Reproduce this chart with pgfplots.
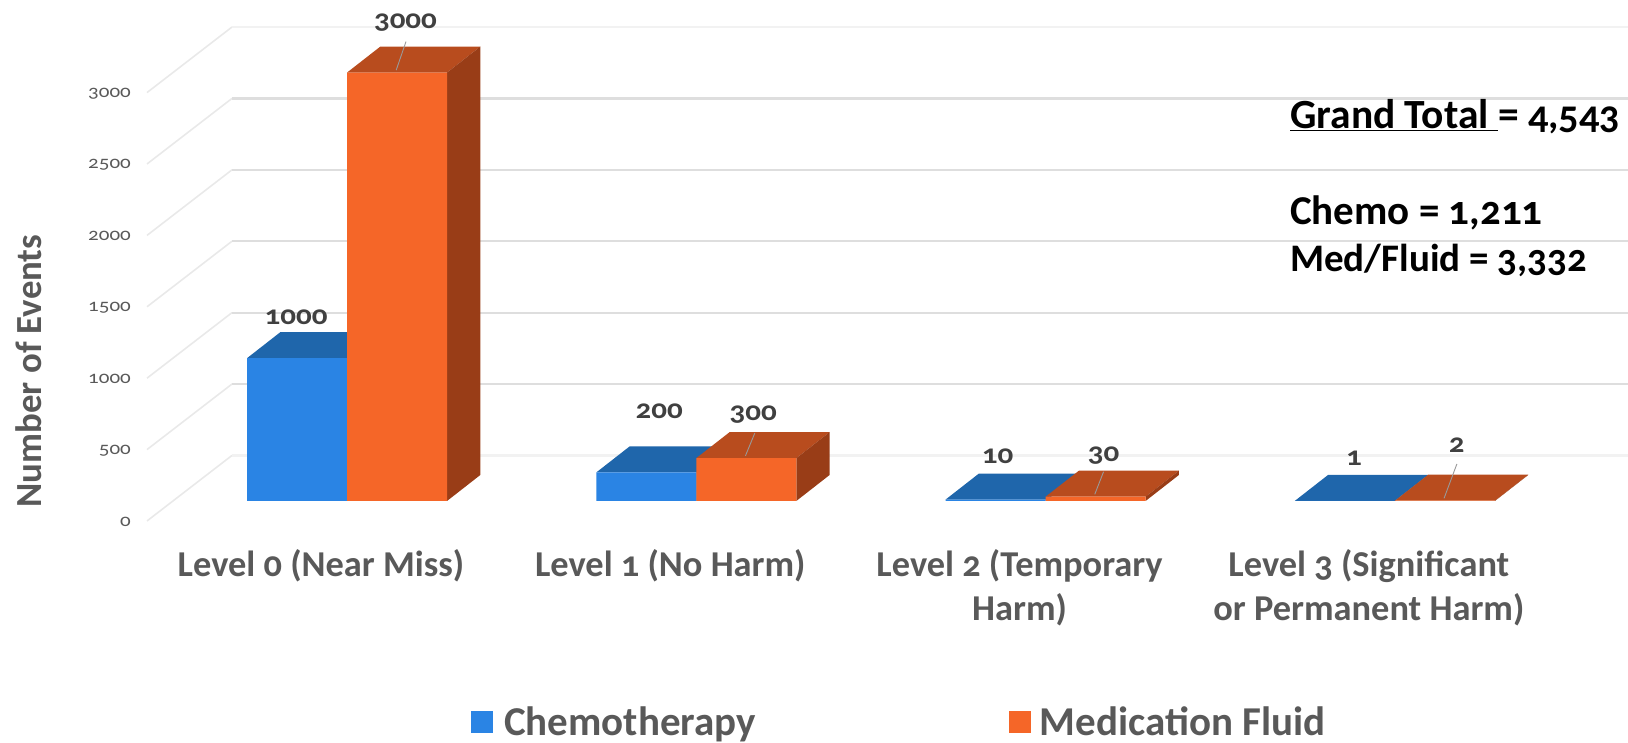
\documentclass[border=0pt]{standalone}
\usepackage{fontspec}
\usepackage{pgfplots}
\pgfplotsset{compat=1.18}
\setmainfont{Carlito}[Numbers=OldStyle]
\newfontfamily\tickfont{Carlito}[Numbers=OldStyle,FakeStretch=1.2]
\newfontfamily\valfont{Carlito}[Numbers=OldStyle,FakeStretch=1.15]
\definecolor{chemo}{HTML}{2A84E4}
\definecolor{chemotop}{HTML}{1F66AB}
\definecolor{med}{HTML}{F56628}
\definecolor{medtop}{HTML}{B84C1E}
\definecolor{medside}{HTML}{993D17}
\definecolor{gridmid}{HTML}{DEDEDE}
\definecolor{gridpale}{HTML}{F2F2F2}
\definecolor{gridfloor}{HTML}{E9E9E9}
\definecolor{txt}{HTML}{595959}
\definecolor{val}{HTML}{404040}

\pgfplotstableread{
cat chemo med
0 1000 3000
1 200 300
2 10 30
3 1 2
}\levels

% Depth of the bars and of the floor, in axis units
\newcommand\bardx{0.0953}
\newcommand\bardy{182}
\newcommand\barw{0.2863}

% Oblique gridline on the floor and its run along the back wall
\newcommand\wallline[2]{%
  \pgfmathsetmacro\ya{#1-140}%
  \pgfmathsetmacro\yb{#1+319}%
  \addplot[gridfloor,line width=1.6pt,forget plot] coordinates {(-0.5726,\ya) (-0.3293,\yb)};
  \addplot[#2,line width=2.2pt,forget plot] coordinates {(-0.3293,\yb) (3.6674,\yb)};
}
% Top and side faces of a bar whose left edge is at #1 and whose height is #2
\newcommand\barfaces[4]{%
  \pgfmathsetmacro\xr{#1+\barw}%
  \pgfmathsetmacro\xlb{#1+\bardx}%
  \pgfmathsetmacro\xrb{#1+\barw+\bardx}%
  \pgfmathsetmacro\yb{#2+\bardy}%
  \addplot[fill=#3,draw=none,forget plot] coordinates {(#1,#2) (\xlb,\yb) (\xrb,\yb) (\xr,#2)} -- cycle;
  \addplot[fill=#4,draw=none,forget plot] coordinates {(\xr,0) (\xrb,\bardy) (\xrb,\yb) (\xr,#2)} -- cycle;
}
% Value label above a bar, with optional leader line
\newcommand\vallab[4]{%
  \node[font=\valfont\bfseries\fontsize{27}{27}\selectfont,text=val,inner sep=0pt,anchor=center]
    at ([xshift=#3pt,yshift=#4pt]axis cs:#1,#2) {#2};
}
\newcommand\leader[4]{%
  \draw[color=black!40,line width=0.9pt]
    ([xshift=-0.8pt,yshift=2.4pt]axis cs:#1,#2) -- ([xshift=#3pt,yshift=#4pt]axis cs:#1,#2);
}

\begin{document}
\begin{tikzpicture}
\useasboundingbox (0,0) rectangle (1628pt,743pt);
\begin{axis}[
  at={(147pt,242pt)},anchor=south west,
  scale only axis,width=1481pt,height=428.4pt,
  xmin=-0.5726,xmax=3.6674,ymin=0,ymax=3000,
  clip=false,
  axis line style={draw=none},
  tick style={draw=none},
  major tick length=0pt,
  xtick={0,1,2,3},
  xticklabels={{Level 0 (Near Miss)},{Level 1 (No Harm)},{Level 2 (Temporary\\Harm)},{Level 3 (Significant\\or Permanent Harm)}},
  xticklabel style={font=\bfseries\fontsize{36.4}{44}\selectfont,text=txt,align=center,anchor=north,xshift=-26pt,yshift=-48pt,inner sep=0pt},
  ytick={0,500,1000,1500,2000,2500,3000},
  yticklabel style={font=\tickfont\fontsize{17.5}{18}\selectfont,text=txt,anchor=east,xshift=-16pt,yshift=-21pt,inner sep=0pt,
    /pgf/number format/assume math mode=true,/pgf/number format/1000 sep={}},
  ylabel={Number of Events},
  every axis y label/.style={at={(axis description cs:-0.0797,0.3035)},rotate=90,anchor=center,
    font=\bfseries\fontsize{36.8}{37}\selectfont,text=txt},
  legend style={at={(axis description cs:0.2188,-0.5150)},anchor=west,draw=none,fill=none,
    legend columns=2,font=\bfseries\fontsize{41}{41}\selectfont,text=txt,inner sep=0pt,
    /tikz/every even column/.append style={column sep=251pt}},
  legend cell align=left,
  legend image code/.code={\fill[#1,draw=none] (0pt,-11pt) rectangle (22pt,11pt);},
]
\wallline{0}{gridpale}
\wallline{500}{gridmid}
\wallline{1000}{gridmid}
\wallline{1500}{gridmid}
\wallline{2000}{gridmid}
\wallline{2500}{gridmid}
\wallline{3000}{gridpale}

\barfaces{-0.2863}{1000}{chemotop}{chemotop}
\barfaces{0.7137}{200}{chemotop}{chemotop}
\barfaces{1.7137}{10}{chemotop}{chemotop}
\barfaces{2.7137}{1}{chemotop}{chemotop}
\addplot[ybar,bar width=100pt,bar shift=-50pt,fill=chemo,draw=none,forget plot] table[x=cat,y=chemo] {\levels};

\barfaces{0}{3000}{medtop}{medside}
\barfaces{1}{300}{medtop}{medside}
\barfaces{2}{30}{medtop}{medside}
\barfaces{3}{2}{medtop}{medside}
\addplot[ybar,bar width=100pt,bar shift=50pt,fill=med,draw=none,forget plot] table[x=cat,y=med] {\levels};

\addlegendimage{fill=chemo}\addlegendentry{\hspace{9pt}Chemotherapy}
\addlegendimage{fill=med}\addlegendentry{\hspace{7pt}Medication Fluid}

\leader{0.1431}{3000}{9}{31}
\leader{1.1431}{300}{8.5}{25}
\leader{2.1431}{30}{8}{25}
\leader{3.1431}{2}{12}{36.7}

\vallab{-0.1431}{1000}{-1}{41}
\vallab{0.1431}{3000}{8.5}{49.6}
\vallab{0.8569}{200}{13}{61}
\vallab{1.1431}{300}{7}{44}
\vallab{1.8569}{10}{2}{43.6}
\vallab{2.1431}{30}{8}{40.7}
\vallab{2.8569}{1}{9}{43}
\vallab{3.1431}{2}{12}{55.7}
\end{axis}
% Totals printed beside the bars
\begin{scope}[font=\bfseries,text=black]
\node[anchor=base west,inner sep=0pt] at (1290pt,{(743-129)*1pt}) {\fontsize{41.5}{42}\selectfont\underline{Grand Total\ }= \fontsize{40}{42}\selectfont 4,543};
\node[anchor=base west,inner sep=0pt] at (1290pt,{(743-225)*1pt}) {\fontsize{41}{42}\selectfont Chemo = 1,211};
\node[anchor=base west,inner sep=0pt] at (1290pt,{(743-272)*1pt}) {\fontsize{39}{42}\selectfont Med/Fluid = 3,332};
\end{scope}
\end{tikzpicture}
\end{document}
